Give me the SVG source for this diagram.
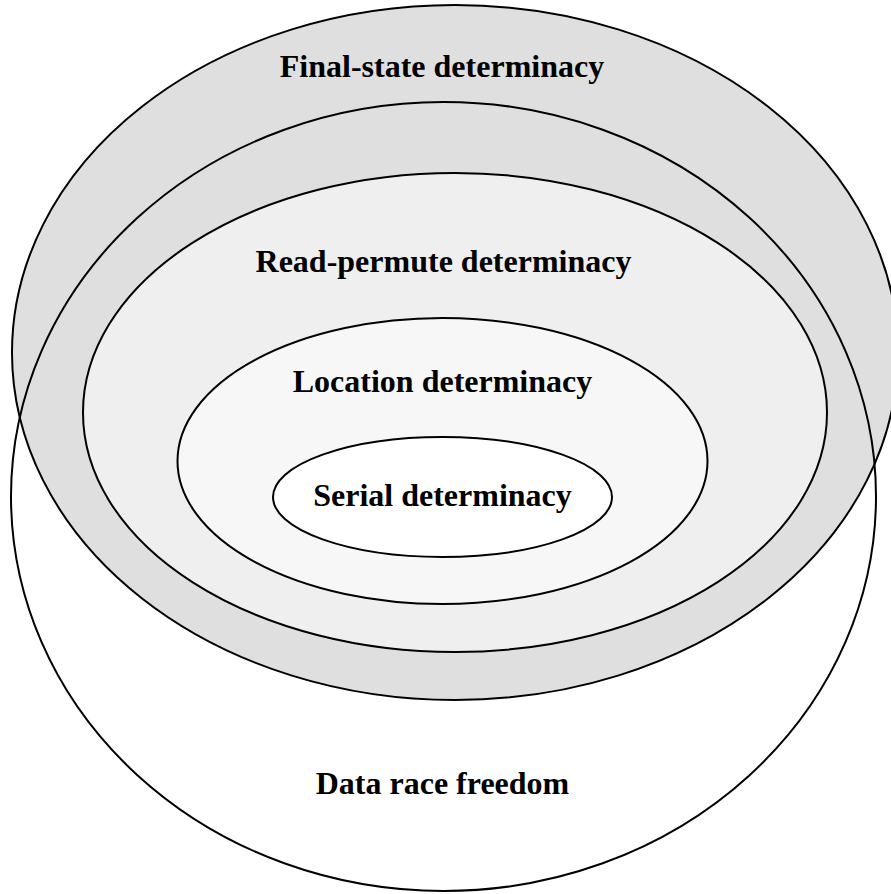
<svg xmlns="http://www.w3.org/2000/svg" width="891" height="894" viewBox="0 0 891 894">
  <style>
    .set { stroke: #000000; stroke-width: 2; }
    .lbl { font-family: "Liberation Serif", "Times New Roman", serif; font-weight: bold; font-size: 32px; fill: #000000; text-anchor: middle; }
  </style>
  <rect x="0" y="0" width="891" height="894" fill="#ffffff"/>
  <g id="final-state">
    <ellipse class="set" cx="455" cy="352.5" rx="443" ry="347.5" fill="#dfdfdf"/>
    <text class="lbl" x="442" y="77">Final-state determinacy</text>
  </g>
  <g id="data-race-freedom">
    <ellipse class="set" cx="443.5" cy="496.5" rx="432.5" ry="394.5" fill="none"/>
    <text class="lbl" x="442.5" y="794">Data race freedom</text>
  </g>
  <g id="read-permute">
    <ellipse class="set" cx="455" cy="412.5" rx="372" ry="239.5" fill="#efefef"/>
    <text class="lbl" x="443.5" y="272">Read-permute determinacy</text>
  </g>
  <g id="location">
    <ellipse class="set" cx="442.5" cy="461" rx="265" ry="143" fill="#f7f7f7"/>
    <text class="lbl" x="442.5" y="392">Location determinacy</text>
  </g>
  <g id="serial">
    <ellipse class="set" cx="442.5" cy="497" rx="169.5" ry="60" fill="#ffffff"/>
    <text class="lbl" x="442.5" y="506">Serial determinacy</text>
  </g>
  <g id="connectors"/>
</svg>
